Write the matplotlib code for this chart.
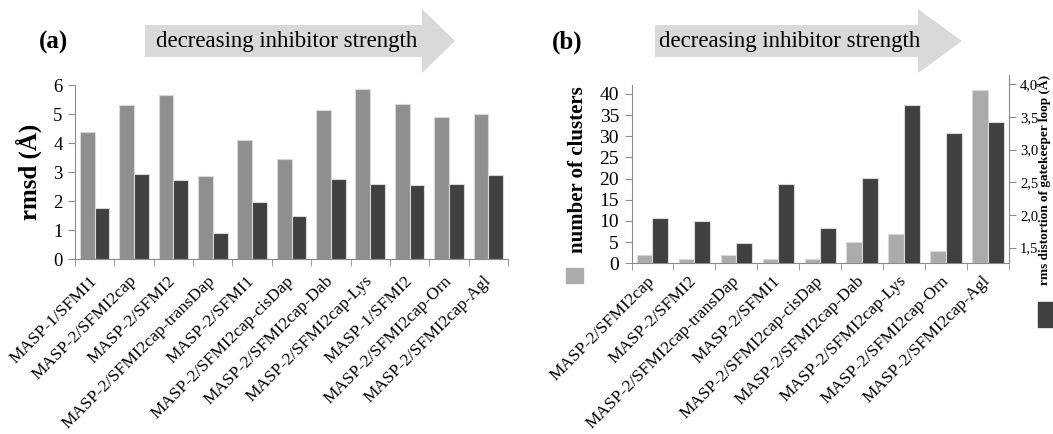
import numpy as np
import matplotlib
matplotlib.use("Agg")
import matplotlib.pyplot as plt
from matplotlib.patches import Polygon, Rectangle

# ---------------- data ----------------
cats_a = ["MASP-1/SFMI1", "MASP-2/SFMI2cap", "MASP-2/SFMI2", "MASP-2/SFMI2cap-transDap",
          "MASP-2/SFMI1", "MASP-2/SFMI2cap-cisDap", "MASP-2/SFMI2cap-Dab",
          "MASP-2/SFMI2cap-Lys", "MASP-1/SFMI2", "MASP-2/SFMI2cap-Orn", "MASP-2/SFMI2cap-Agl"]
rmsd_light = [4.38, 5.33, 5.65, 2.86, 4.10, 3.47, 5.15, 5.86, 5.37, 4.91, 5.02]
rmsd_dark = [1.75, 2.95, 2.72, 0.91, 1.97, 1.47, 2.77, 2.60, 2.55, 2.60, 2.91]

cats_b = ["MASP-2/SFMI2cap", "MASP-2/SFMI2", "MASP-2/SFMI2cap-transDap", "MASP-2/SFMI1",
          "MASP-2/SFMI2cap-cisDap", "MASP-2/SFMI2cap-Dab", "MASP-2/SFMI2cap-Lys",
          "MASP-2/SFMI2cap-Orn", "MASP-2/SFMI2cap-Agl"]
n_clusters = [2, 1, 2, 1, 1, 5, 7, 3, 41]
rms_gatekeeper = [1.95, 1.91, 1.57, 2.47, 1.80, 2.56, 3.69, 3.25, 3.42]

yticks_a = [0, 1, 2, 3, 4, 5, 6]
yticks_b_left = [0, 5, 10, 15, 20, 25, 30, 35, 40]
yticks_b_right = [1.5, 2.0, 2.5, 3.0, 3.5, 4.0]
arrow_text = "decreasing inhibitor strength"

# ---------------- style ----------------
SERIF = ["Liberation Serif", "DejaVu Serif"]
plt.rcParams["font.family"] = SERIF
W, H = 1053, 434
fig = plt.figure(figsize=(W / 100, H / 100), dpi=100)

def fx(px):
    return px / W

def fy(py):
    return 1 - py / H

SPINE = "#8a8a8a"
LIGHT_A = "#8f8f8f"
LIGHT_B = "#ababab"
DARK = "#404040"
EDGE = "#d8d8d8"
BW = 0.375

def style_x(ax, labels, fs, pad):
    n = len(labels)
    x = np.arange(n)
    ax.set_xlim(-0.5, n - 0.5)
    ax.set_xticks(x)
    ax.set_xticklabels(labels, rotation=45, ha="right", rotation_mode="anchor",
                       fontsize=fs, va="center")
    ax.tick_params(axis="x", which="major", length=0, pad=pad)
    ax.set_xticks(np.arange(n + 1) - 0.5, minor=True)
    ax.tick_params(axis="x", which="minor", length=5, color=SPINE, direction="out")

# ---------------- panel (a) ----------------
ax1 = fig.add_axes([fx(75), fy(259), fx(433), (259 - 85.3) / H])
xa = np.arange(len(cats_a))
ax1.bar(xa - BW / 2, rmsd_light, BW, color=LIGHT_A, edgecolor=EDGE, linewidth=0.8)
ax1.bar(xa + BW / 2, rmsd_dark, BW, color=DARK, edgecolor=EDGE, linewidth=0.8)
ax1.set_ylim(0, 6)
ax1.set_yticks(yticks_a)
ax1.set_yticklabels([str(v) for v in yticks_a], fontsize=13.5)
ax1.tick_params(axis="y", length=5, color=SPINE, pad=4)
style_x(ax1, cats_a, 12.5, 14)
for s in ["top", "right"]:
    ax1.spines[s].set_visible(False)
for s in ["left", "bottom"]:
    ax1.spines[s].set_color(SPINE)
ax1.set_ylabel("rmsd (Å)", fontsize=18, fontweight="bold", labelpad=8)

# ---------------- panel (b) ----------------
ax2 = fig.add_axes([fx(631.5), fy(263.3), fx(377.5), (263.3 - 75) / H])
ax3 = ax2.twinx()
xb = np.arange(len(cats_b))
ax2.bar(xb - BW / 2, n_clusters, BW, color=LIGHT_B, edgecolor=EDGE, linewidth=0.8)
ax3.bar(xb + BW / 2, rms_gatekeeper, BW, color=DARK, edgecolor=EDGE, linewidth=0.8)
ax2.set_ylim(0, 44.48)
ax3.set_ylim(1.261, 4.142)
ax2.set_yticks(yticks_b_left)
ax2.set_yticklabels([str(v) for v in yticks_b_left], fontsize=14)
ax3.set_yticks(yticks_b_right)
ax3.set_yticklabels([f"{v:.1f}".replace(".", ",") for v in yticks_b_right], fontsize=10.5)
ax2.tick_params(axis="y", length=5, color=SPINE, pad=4)
ax3.tick_params(axis="y", length=5, color=SPINE, pad=3)
style_x(ax2, cats_b, 12.5, 11)
for a in (ax2, ax3):
    a.spines["top"].set_visible(False)
    for s in ["left", "bottom", "right"]:
        a.spines[s].set_color(SPINE)
ax2.spines["right"].set_visible(False)
ax3.spines["left"].set_visible(False)
ax3.spines["bottom"].set_visible(False)
ax2.spines["left"].set_bounds(0, 42)
ax2.set_ylabel("number of clusters", fontsize=15, fontweight="bold", labelpad=8)
fig.text(fx(1044), fy(180), "rms distortion of gatekeeper loop (Å)", rotation=90,
         ha="center", va="center", fontsize=9.5, fontweight="bold")

# legend keys beside the axis titles
fig.patches.append(Rectangle((fx(566), fy(283)), fx(17), 15 / H, color=LIGHT_B,
                             transform=fig.transFigure, figure=fig))
fig.patches.append(Rectangle((fx(1038), fy(327)), fx(17), 25 / H, color=DARK,
                             transform=fig.transFigure, figure=fig))

# ---------------- arrows & panel letters ----------------
def block_arrow(x0, x1, xt):
    pts = [(x0, 25), (x1, 25), (x1, 9), (xt, 41), (x1, 73), (x1, 57), (x0, 57)]
    poly = Polygon([(fx(px), fy(py)) for px, py in pts], closed=True,
                   facecolor="#d9d9d9", edgecolor="none",
                   transform=fig.transFigure, figure=fig)
    fig.patches.append(poly)
    fig.text(fx((x0 + x1) / 2 + 3), fy(42), arrow_text, ha="center", va="center",
             fontsize=16.5)

block_arrow(145, 422, 455)
block_arrow(655, 918, 962)
fig.text(fx(54), fy(42), "(a)", ha="center", va="center", fontsize=18, fontweight="bold")
fig.text(fx(567), fy(42), "(b)", ha="center", va="center", fontsize=18, fontweight="bold")

fig.savefig("out.png", dpi=100)
